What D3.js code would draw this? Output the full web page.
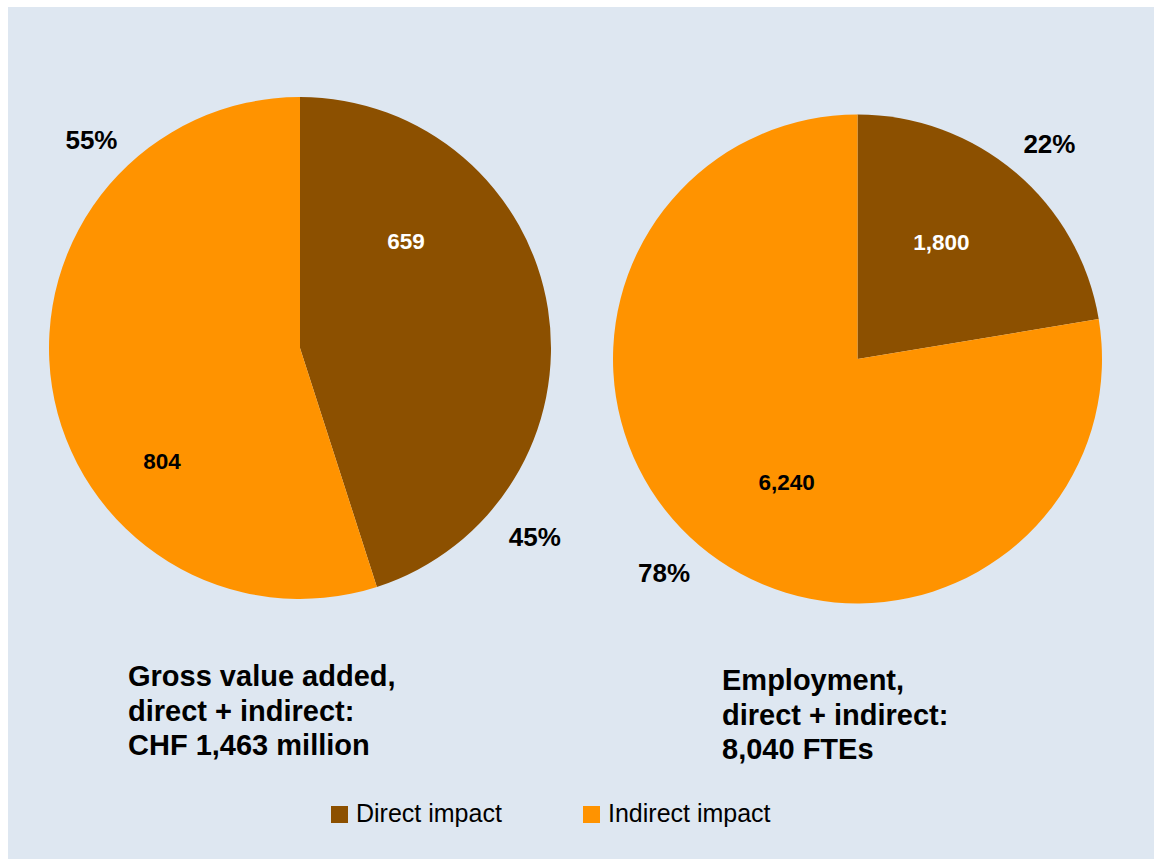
<!DOCTYPE html>
<html>
<head>
<meta charset="utf-8">
<script src="https://cdn.jsdelivr.net/npm/d3@7"></script>
<style>
  body { margin: 0; background: #ffffff; }
  text { font-family: "Liberation Sans", Arial, Helvetica, sans-serif; }
</style>
</head>
<body>
<div id="chart"></div>
<script>
var categories = ["Direct impact", "Indirect impact"];
var gvaValues = [659, 804];
var gvaPercent = ["45%", "55%"];
var fteValues = [1800, 6240];
var ftePercent = ["22%", "78%"];
var gvaTitle = ["Gross value added,", "direct + indirect:", "CHF 1,463 million"];
var fteTitle = ["Employment,", "direct + indirect:", "8,040 FTEs"];

function init() {
    var w = 1154;
    var h = 859;

    var svg = d3.select("#chart")
                .append("svg")
                .attr("width", w)
                .attr("height", h);

    svg.append("rect")
        .attr("x", 8)
        .attr("y", 7)
        .attr("width", w - 8)
        .attr("height", h - 7)
        .attr("fill", "#dee7f1");

    var color = d3.scaleOrdinal()
                  .domain(categories)
                  .range(["#8c5000", "#ff9300"]);

    var fmt = d3.format(",");
    var pie = d3.pie().sort(null);

    // label placement: angle in degrees from top, radius as share of pie radius
    var charts = [
        { values: gvaValues, pct: gvaPercent, title: gvaTitle,
          cx: 300, cy: 348, r: 251,
          inner: [[44.7, 0.6], [230.7, 0.71]],
          outer: [[128.8, 1.2], [315, 1.175]],
          tx: 128, ty: 686 },
        { values: fteValues, pct: ftePercent, title: fteTitle,
          cx: 857.5, cy: 359, r: 244.5,
          inner: [[35.6, 0.59], [210, 0.58]],
          outer: [[41.7, 1.18], [222.1, 1.18]],
          tx: 722, ty: 690 }
    ];

    function polar(deg, rad) {
        var a = deg * Math.PI / 180;
        return [rad * Math.sin(a), -rad * Math.cos(a)];
    }

    charts.forEach(function(c) {
        var arc = d3.arc()
                    .innerRadius(0)
                    .outerRadius(c.r);

        var g = svg.append("g")
            .attr("transform", "translate(" + c.cx + ", " + c.cy + ")");

        var arcs = g.selectAll("g.arc")
            .data(pie(c.values))
            .enter()
            .append("g")
            .attr("class", "arc");

        arcs.append("path")
            .attr("fill", function(d, i) {
                return color(categories[i]);
            })
            .attr("d", arc);

        arcs.append("text")
            .attr("transform", function(d, i) {
                return "translate(" + polar(c.inner[i][0], c.inner[i][1] * c.r) + ")";
            })
            .attr("text-anchor", "middle")
            .attr("dy", "0.35em")
            .attr("font-size", 22.5)
            .attr("font-weight", "bold")
            .attr("fill", function(d, i) { return i === 0 ? "#ffffff" : "#000000"; })
            .text(function(d) {
                return fmt(d.data);
            });

        arcs.append("text")
            .attr("transform", function(d, i) {
                return "translate(" + polar(c.outer[i][0], c.outer[i][1] * c.r) + ")";
            })
            .attr("text-anchor", "middle")
            .attr("dy", "0.35em")
            .attr("font-size", 26)
            .attr("font-weight", "bold")
            .attr("fill", "#000000")
            .text(function(d, i) {
                return c.pct[i];
            });

        svg.append("text")
            .attr("x", c.tx)
            .attr("y", c.ty)
            .attr("font-size", 29)
            .attr("font-weight", "bold")
            .attr("fill", "#000000")
            .selectAll("tspan")
            .data(c.title)
            .enter()
            .append("tspan")
            .attr("x", c.tx)
            .attr("dy", function(d, i) { return i === 0 ? 0 : 34.5; })
            .text(function(d) { return d; });
    });

    // legend
    var legendX = [331, 583];
    var legend = svg.selectAll("g.legend")
        .data(categories)
        .enter()
        .append("g")
        .attr("class", "legend")
        .attr("transform", function(d, i) {
            return "translate(" + legendX[i] + ", 806)";
        });

    legend.append("rect")
        .attr("width", 17)
        .attr("height", 17)
        .attr("fill", function(d) { return color(d); });

    legend.append("text")
        .attr("x", 25)
        .attr("y", 16)
        .attr("font-size", 25)
        .attr("fill", "#000000")
        .text(function(d) { return d; });
}

window.onload = init;
</script>
</body>
</html>
